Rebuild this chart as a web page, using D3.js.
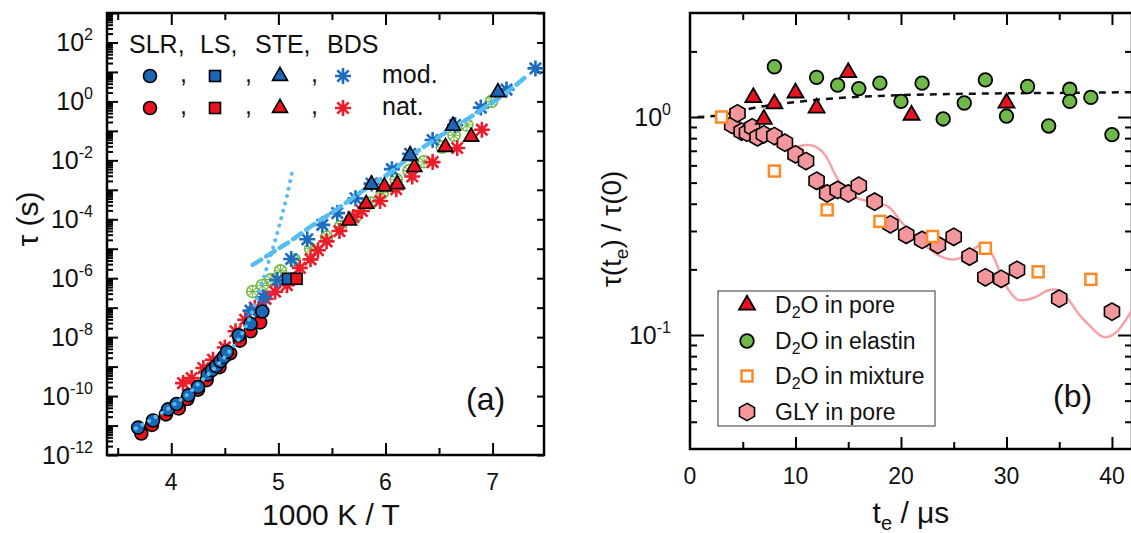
<!DOCTYPE html>
<html>
<head>
<meta charset="utf-8">
<script src="https://cdn.jsdelivr.net/npm/d3@7"></script>
<style>
  body { margin: 0; background: #fff; }
  svg { display: block; font-family: "Liberation Sans", Arial, Helvetica, sans-serif; }
</style>
</head>
<body>
<svg id="fig" width="1131" height="533"></svg>
<script>
// ---------- Panel (a): relaxation time vs inverse temperature ----------
// each entry: [1000 K / T, log10(tau / s)]
const slrMod = [[3.69,-11.07],[3.83,-10.83],[3.97,-10.45],[4.05,-10.27],[4.16,-9.97],[4.25,-9.69],[4.34,-9.27],[4.38,-9.12],[4.42,-8.98],[4.46,-8.82],[4.49,-8.68],[4.52,-8.50],[4.63,-7.94],[4.74,-7.55],[4.85,-7.13]];
const slrNat = [[3.72,-11.27],[3.82,-10.98],[3.95,-10.62],[4.07,-10.42],[4.15,-10.10],[4.25,-9.78],[4.33,-9.46],[4.45,-9.02],[4.55,-8.55],[4.64,-8.12],[4.74,-7.80],[4.83,-7.50]];
const lsMod = [[5.09,-6.02]];
const lsNat = [[5.17,-6.02]];
const steMod = [[5.87,-2.82],[6.23,-1.84],[6.63,-0.83],[7.05,0.31]];
const steNat = [[5.66,-4.05],[5.82,-3.48],[5.99,-2.89],[6.11,-2.81],[6.27,-2.23],[6.56,-1.55],[6.80,-1.20]];
const bdsMod = [[4.74,-7.10],[4.86,-6.65],[4.99,-6.06],[5.12,-5.35],[5.27,-4.68],[5.41,-4.19],[5.55,-3.79],[5.72,-3.29],[5.87,-2.79],[6.06,-2.30],[6.23,-1.78],[6.44,-1.31],[6.65,-0.80],[6.89,-0.21],[7.13,0.40],[7.40,1.12]];
const bdsNat = [[4.11,-9.56],[4.19,-9.39],[4.30,-9.05],[4.39,-8.77],[4.50,-8.35],[4.60,-7.80],[4.69,-7.41],[4.78,-7.00],[4.88,-6.70],[4.97,-6.46],[5.08,-6.24],[5.20,-5.65],[5.30,-5.36],[5.37,-5.05],[5.45,-4.75],[5.57,-4.40],[5.70,-3.92],[5.78,-3.72],[5.95,-3.38],[6.10,-2.98],[6.25,-2.55],[6.44,-2.06],[6.67,-1.58],[6.90,-0.96]];
const otherData = [[4.76,-6.45],[4.85,-6.25],[4.93,-6.05],[5.02,-5.75],[5.15,-5.38],[5.30,-5.00],[5.45,-4.60],[5.58,-4.25],[5.72,-3.90],[5.86,-3.45],[5.97,-3.10],[6.10,-2.65],[6.22,-2.35],[6.36,-2.05],[6.53,-1.55],[6.64,-1.15],[6.76,-0.80],[6.99,0.00]];
const slrFit = [[3.67,-11.10],[3.85,-10.72],[4.00,-10.35],[4.15,-9.95],[4.30,-9.42],[4.45,-8.87],[4.55,-8.45],[4.65,-7.95],[4.72,-7.45],[4.78,-6.90],[4.84,-6.25],[4.90,-5.55],[4.96,-4.85],[5.02,-4.05],[5.08,-3.20],[5.135,-2.27]];
const bdsFit = [[4.76,-5.55],[5.00,-5.00],[5.12,-4.72],[5.30,-4.25],[5.55,-3.65],[5.80,-3.00],[6.05,-2.40],[6.25,-1.82],[6.50,-1.20],[6.70,-0.75],[6.95,-0.15],[7.10,0.22],[7.30,0.80]];
const xTicksA = [4, 5, 6, 7];
const xMinorA = [3.5, 4.5, 5.5, 6.5];
const yLabelExpA = [2, 0, -2, -4, -6, -8, -10, -12];

// ---------- Panel (b): tau(t_e)/tau(0) vs evolution time ----------
// each entry: [t_e / us, tau(t_e)/tau(0)]
const d2oPore = [[6,1.23],[7,0.976],[8,1.15],[10,1.29],[12,1.10],[15,1.60],[21,1.02],[30,1.16]];
const d2oElastin = [[8,1.70],[12,1.52],[14,1.40],[16,1.35],[18,1.43],[20,1.18],[22,1.43],[24,0.98],[26,1.16],[28,1.48],[30,1.01],[32,1.38],[34,0.91],[36,1.34],[36,1.18],[38,1.23],[40,0.83]];
const d2oMixture = [[3,1.0],[8,0.565],[13,0.375],[18,0.332],[23,0.283],[28,0.25],[33,0.195],[38,0.18]];
const glyPore = [[4.0,0.92],[4.5,1.04],[4.9,0.857],[5.4,0.847],[5.9,0.897],[6.4,0.807],[7.0,0.833],[8.0,0.818],[9.0,0.762],[10,0.674],[11,0.628],[12,0.51],[13,0.446],[14,0.463],[15,0.446],[16,0.484],[17.5,0.409],[19,0.322],[20.5,0.288],[22,0.273],[23.5,0.259],[25,0.282],[26.5,0.229],[28,0.184],[29.5,0.181],[31,0.199],[35,0.147],[40,0.128]];
const glyModel = [[8,0.75],[9,0.73],[10,0.73],[11,0.745],[11.8,0.735],[12.8,0.67],[13.7,0.552],[14.7,0.463],[15.9,0.424],[17.5,0.405],[18.8,0.388],[20.0,0.331],[21.3,0.283],[22.6,0.25],[23.8,0.229],[25.1,0.222],[26.4,0.237],[27.5,0.259],[28.1,0.256],[28.9,0.221],[29.8,0.173],[31.1,0.145],[32.7,0.149],[33.9,0.16],[34.9,0.161],[35.8,0.147],[36.9,0.124],[38.0,0.109],[39.2,0.098],[40.3,0.102],[41.9,0.13]];
const waterFit = [[0.7,1.0],[3,1.02],[4.5,1.06],[6,1.1],[8,1.14],[10,1.17],[12,1.2],[15,1.23],[20,1.26],[25,1.275],[30,1.285],[35,1.29],[41.9,1.30]];
const xTicksB = [0, 10, 20, 30, 40];
const xMinorB = [5, 15, 25, 35];
const legendB = ["D\u2082O in pore", "D\u2082O in elastin", "D\u2082O in mixture", "GLY in pore"];

// ---------- colours ----------
const C = {
  blue: "#1b68b8", red: "#e8131f", astBlue: "#1c6cc0", astRed: "#ec1c2a",
  green: "#74b944", light: "#56bdf3", greenB: "#6fb84a", orange: "#ff8a24",
  pink: "#f4979d", pinkLine: "#f6a2a7"
};

const svg = d3.select("#fig");

// ---------- marker shapes ----------
function triPath(s) {
  const h = s * Math.sqrt(3) / 2;
  return `M0,${-2*h/3}L${s/2},${h/3}L${-s/2},${h/3}Z`;
}
function hexPath(R) {
  const p = d3.range(6).map(i => {
    const a = (-90 + 60 * i) * Math.PI / 180;
    return [R * Math.cos(a), R * Math.sin(a)];
  });
  return "M" + p.map(q => q.join(",")).join("L") + "Z";
}
function astPath(r) {
  const d = r * Math.SQRT1_2;
  return `M${-r},0L${r},0M0,${-r}L0,${r}M${-d},${-d}L${d},${d}M${-d},${d}L${d},${-d}`;
}
function drawCircle(g, x, y, r, fill, stroke, sw) {
  g.append("circle").attr("cx", x).attr("cy", y).attr("r", r)
    .attr("fill", fill).attr("stroke", stroke).attr("stroke-width", sw);
}
function drawPath(g, x, y, d, fill, stroke, sw) {
  g.append("path").attr("d", d).attr("transform", `translate(${x},${y})`)
    .attr("fill", fill).attr("stroke", stroke).attr("stroke-width", sw)
    .attr("stroke-linejoin", "miter");
}
function drawSquare(g, x, y, s, fill, stroke, sw) {
  g.append("rect").attr("x", x - s/2).attr("y", y - s/2).attr("width", s).attr("height", s)
    .attr("fill", fill).attr("stroke", stroke).attr("stroke-width", sw);
}

// ---------- axis tick helper ----------
function tickSet(axisFn, scale, values, size, tx, ty) {
  svg.append("g").attr("transform", `translate(${tx},${ty})`)
    .call(axisFn(scale).tickValues(values).tickSize(size).tickFormat(""))
    .call(g => g.select(".domain").remove())
    .call(g => g.selectAll("line").attr("stroke", "#000").attr("stroke-width", 2));
}
function powLabel(x, y, exp) {
  const t = svg.append("text").attr("x", x).attr("y", y).attr("text-anchor", "end")
    .attr("font-size", 25).attr("fill", "#111");
  t.append("tspan").text("10");
  t.append("tspan").attr("dy", -11).attr("font-size", 16).text(exp);
}

// =====================================================================
// Panel (a)
// =====================================================================
const A = { l: 107, r: 544, t: 13, b: 455 };
const xA = d3.scaleLinear().domain([3.4, 7.48]).range([A.l, A.r]);
const yA = d3.scaleLog().domain([1e-12, 1e3]).range([A.b, A.t]);
const pxA = d => xA(d[0]);
const pyA = d => yA(Math.pow(10, d[1]));

const decadesA = d3.range(-12, 4).map(k => Math.pow(10, k));
const minorA = [];
d3.range(-12, 3).forEach(k => d3.range(2, 10).forEach(m => minorA.push(m * Math.pow(10, k))));

tickSet(d3.axisLeft, yA, decadesA, -11, A.l, 0);
tickSet(d3.axisLeft, yA, minorA, -6, A.l, 0);
tickSet(d3.axisRight, yA, decadesA, -7, A.r, 0);
tickSet(d3.axisTop, xA, xTicksA, -12, 0, A.t);
tickSet(d3.axisTop, xA, xMinorA, -7, 0, A.t);
tickSet(d3.axisBottom, xA, xTicksA, -12, 0, A.b);
tickSet(d3.axisBottom, xA, xMinorA, -7, 0, A.b);

svg.append("rect").attr("x", A.l).attr("y", A.t).attr("width", A.r - A.l).attr("height", A.b - A.t)
  .attr("fill", "none").attr("stroke", "#000").attr("stroke-width", 2.5);

yLabelExpA.forEach(e => powLabel(93, yA(Math.pow(10, e)) + 9, String(e)));
xTicksA.forEach(v => svg.append("text").attr("x", xA(v)).attr("y", 490)
  .attr("text-anchor", "middle").attr("font-size", 23).attr("fill", "#111").text(v));

svg.append("text").attr("x", 331).attr("y", 525).attr("text-anchor", "middle")
  .attr("font-size", 30).attr("fill", "#111").text("1000 K / T");
svg.append("text").attr("transform", "translate(38,219) rotate(-90)").attr("text-anchor", "middle")
  .attr("font-size", 30).attr("fill", "#111").text("\u03c4 (s)");

const gA = svg.append("g");
// additional data set (open green symbols with spokes)
otherData.forEach(d => {
  drawCircle(gA, pxA(d), pyA(d), 6, "none", C.green, 1.6);
  drawPath(gA, pxA(d), pyA(d), astPath(6), "none", C.green, 1.1);
});
// dielectric data
bdsNat.forEach(d => drawPath(gA, pxA(d), pyA(d), astPath(8), "none", C.astRed, 2.6));
bdsMod.forEach(d => drawPath(gA, pxA(d), pyA(d), astPath(8), "none", C.astBlue, 2.6));
// fit lines
const lineA = d3.line().x(pxA).y(pyA).curve(d3.curveMonotoneX);
gA.append("path").attr("d", lineA(bdsFit)).attr("fill", "none").attr("stroke", C.light)
  .attr("stroke-width", 4.5).attr("stroke-dasharray", "10,6").attr("stroke-linecap", "round");
// spin-lattice relaxation
slrNat.forEach(d => drawCircle(gA, pxA(d), pyA(d), 6.5, C.red, "#000", 1.6));
slrMod.forEach(d => drawCircle(gA, pxA(d), pyA(d), 6.5, C.blue, "#000", 1.6));
gA.append("path").attr("d", lineA(slrFit)).attr("fill", "none").attr("stroke", C.light)
  .attr("stroke-width", 4).attr("stroke-dasharray", "0.1,7.5").attr("stroke-linecap", "round");
// line shape and stimulated echo
lsMod.forEach(d => drawSquare(gA, pxA(d), pyA(d), 11, C.blue, "#000", 1.6));
lsNat.forEach(d => drawSquare(gA, pxA(d), pyA(d), 11, C.red, "#000", 1.6));
steNat.forEach(d => drawPath(gA, pxA(d), pyA(d), triPath(15), C.red, "#000", 1.6));
steMod.forEach(d => drawPath(gA, pxA(d), pyA(d), triPath(15), C.blue, "#000", 1.6));

// legend of panel (a)
const legA = svg.append("g").attr("font-size", 25).attr("fill", "#111");
[["SLR,", 129], ["LS,", 200], ["STE,", 255], ["BDS", 327]].forEach(([s, x]) =>
  legA.append("text").attr("x", x).attr("y", 53).text(s));
[[76, C.blue, C.astBlue, "mod."], [108, C.red, C.astRed, "nat."]].forEach(([y, f, a, lab]) => {
  drawCircle(legA, 150, y, 6.5, f, "#000", 1.6);
  drawSquare(legA, 215, y, 11, f, "#000", 1.6);
  drawPath(legA, 280, y, triPath(15), f, "#000", 1.6);
  drawPath(legA, 343, y, astPath(8), "none", a, 2.6);
  [180, 245, 311].forEach(x => legA.append("text").attr("x", x).attr("y", y + 6).text(","));
  legA.append("text").attr("x", 382).attr("y", y + 7).text(lab);
});
svg.append("text").attr("x", 466).attr("y", 410).attr("font-size", 32).attr("fill", "#111").text("(a)");

// =====================================================================
// Panel (b)
// =====================================================================
const B = { l: 690, r: 1132, t: 13, b: 449 };
const xB = d3.scaleLinear().domain([0, 41.9]).range([B.l, B.r]);
const yB = d3.scaleLog().domain([0.03, 3]).range([B.b, B.t]);
const pxB = d => xB(d[0]);
const pyB = d => yB(d[1]);

const majorB = [0.1, 1];
const minorB = [0.04,0.05,0.06,0.07,0.08,0.09,0.2,0.3,0.4,0.5,0.6,0.7,0.8,0.9,2];
tickSet(d3.axisLeft, yB, majorB, -14, B.l, 0);
tickSet(d3.axisLeft, yB, minorB, -7, B.l, 0);
tickSet(d3.axisRight, yB, majorB, -14, B.r, 0);
tickSet(d3.axisRight, yB, minorB, -7, B.r, 0);
tickSet(d3.axisTop, xB, xTicksB.slice(1), -12, 0, B.t);
tickSet(d3.axisTop, xB, xMinorB, -7, 0, B.t);
tickSet(d3.axisBottom, xB, xTicksB.slice(1), -12, 0, B.b);
tickSet(d3.axisBottom, xB, xMinorB, -7, 0, B.b);

svg.append("rect").attr("x", B.l).attr("y", B.t).attr("width", B.r - B.l).attr("height", B.b - B.t)
  .attr("fill", "none").attr("stroke", "#000").attr("stroke-width", 2.5);

powLabel(671, yB(1) + 9, "0");
powLabel(671, yB(0.1) + 9, "-1");
xTicksB.forEach(v => svg.append("text").attr("x", xB(v)).attr("y", 484)
  .attr("text-anchor", "middle").attr("font-size", 23).attr("fill", "#111").text(v));

const xt = svg.append("text").attr("x", 911).attr("y", 523).attr("text-anchor", "middle")
  .attr("font-size", 30).attr("fill", "#111");
xt.append("tspan").text("t");
xt.append("tspan").attr("dy", 7).attr("font-size", 20).text("e");
xt.append("tspan").attr("dy", -7).text(" / \u03bcs");

const yt = svg.append("text").attr("transform", "translate(621,229) rotate(-90)")
  .attr("text-anchor", "middle").attr("font-size", 28).attr("fill", "#111");
yt.append("tspan").text("\u03c4(t");
yt.append("tspan").attr("dy", 7).attr("font-size", 19).text("e");
yt.append("tspan").attr("dy", -7).text(") / \u03c4(0)");

const gB = svg.append("g");
const lineB = d3.line().x(pxB).y(pyB).curve(d3.curveCatmullRom.alpha(0.5));
gB.append("path").attr("d", lineB(glyModel)).attr("fill", "none").attr("stroke", C.pinkLine)
  .attr("stroke-width", 2.5);
gB.append("path").attr("d", d3.line().x(pxB).y(pyB).curve(d3.curveMonotoneX)(waterFit))
  .attr("fill", "none").attr("stroke", "#111").attr("stroke-width", 2.5).attr("stroke-dasharray", "7,6");
glyPore.forEach(d => drawPath(gB, pxB(d), pyB(d), hexPath(8.7), C.pink, "#000", 1.6));
d2oMixture.forEach(d => drawSquare(gB, pxB(d), pyB(d), 11, "#fff", C.orange, 2.5));
d2oPore.forEach(d => drawPath(gB, pxB(d), pyB(d), triPath(16), C.red, "#000", 1.8));
d2oElastin.forEach(d => drawCircle(gB, pxB(d), pyB(d), 6.8, C.greenB, "#000", 1.8));

// legend of panel (b)
const legB = svg.append("g");
legB.append("rect").attr("x", 718).attr("y", 291).attr("width", 217).attr("height", 135)
  .attr("fill", "#fff").attr("stroke", "#555").attr("stroke-width", 1.2);
const rowsB = [305, 341, 376, 412];
drawPath(legB, 747, rowsB[0], triPath(16), C.red, "#000", 1.8);
drawCircle(legB, 747, rowsB[1], 6.8, C.greenB, "#000", 1.8);
drawSquare(legB, 747, rowsB[2], 11, "#fff", C.orange, 2.5);
drawPath(legB, 747, rowsB[3], hexPath(8.7), C.pink, "#000", 1.6);
legendB.forEach((s, i) => {
  const t = legB.append("text").attr("x", 775).attr("y", rowsB[i] + 8)
    .attr("font-size", 23).attr("fill", "#111");
  if (s.startsWith("D\u2082O")) {
    t.append("tspan").text("D");
    t.append("tspan").attr("dy", 5).attr("font-size", 16).text("2");
    t.append("tspan").attr("dy", -5).text(s.slice(2));
  } else {
    t.text(s);
  }
});
svg.append("text").attr("x", 1053).attr("y", 407).attr("font-size", 32).attr("fill", "#111").text("(b)");
</script>
</body>
</html>
